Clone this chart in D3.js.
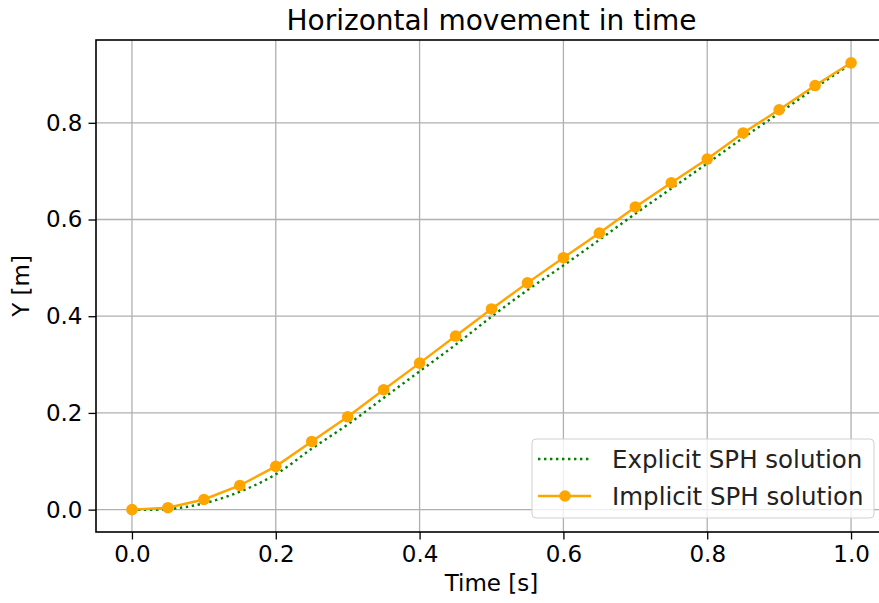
<!DOCTYPE html>
<html>
<head>
<meta charset="utf-8">
<script src="https://cdn.jsdelivr.net/npm/d3@7"></script>
<style>
  html, body { margin: 0; padding: 0; background: #fff; }
  svg { display: block; font-family: "DejaVu Sans", sans-serif; }
</style>
</head>
<body>
<div id="chart"></div>
<script>
// time steps, implicit run sampled every 0.05 s
const times = [0, 0.05, 0.1, 0.15, 0.2, 0.25, 0.3, 0.35, 0.4, 0.45, 0.5,
               0.55, 0.6, 0.65, 0.7, 0.75, 0.8, 0.85, 0.9, 0.95, 1.0];
const implicitY = [0, 0.004, 0.021, 0.05, 0.0895, 0.141, 0.192, 0.248, 0.303, 0.359, 0.415,
                   0.469, 0.521, 0.572, 0.626, 0.676, 0.725, 0.779, 0.827, 0.877, 0.924];
// explicit run at the same times
const explicitY = [0, 0.001, 0.013, 0.037, 0.073, 0.126, 0.176, 0.231, 0.286, 0.341, 0.399,
                   0.454, 0.505, 0.558, 0.612, 0.664, 0.716, 0.769, 0.820, 0.872, 0.922];

const xTicks = [0, 0.2, 0.4, 0.6, 0.8, 1.0];
const yTicks = [0, 0.2, 0.4, 0.6, 0.8];

const W = 879, H = 603;
const box = { left: 96, right: 887, top: 40, bottom: 532 };

const svg = d3.select("#chart").append("svg")
  .attr("width", W)
  .attr("height", H);

const x = d3.scaleLinear().domain([-0.05, 1.05]).range([box.left, box.right]);
const y = d3.scaleLinear().domain([-0.04625, 0.97125]).range([box.bottom, box.top]);

// grid
svg.append("g").selectAll("line.gx")
  .data(xTicks).join("line")
  .attr("x1", d => x(d)).attr("x2", d => x(d))
  .attr("y1", box.top).attr("y2", box.bottom)
  .attr("stroke", "#b0b0b0").attr("stroke-width", 1.3);

svg.append("g").selectAll("line.gy")
  .data(yTicks).join("line")
  .attr("y1", d => y(d)).attr("y2", d => y(d))
  .attr("x1", box.left).attr("x2", box.right)
  .attr("stroke", "#b0b0b0").attr("stroke-width", 1.3);

// axes
const xAxis = d3.axisBottom(x).tickValues(xTicks).tickFormat(d3.format(".1f")).tickSize(7.5).tickPadding(6);
const yAxis = d3.axisLeft(y).tickValues(yTicks).tickFormat(d3.format(".1f")).tickSize(7.5).tickPadding(6);

const gx = svg.append("g").attr("transform", `translate(0,${box.bottom})`).call(xAxis);
const gy = svg.append("g").attr("transform", `translate(${box.left},0)`).call(yAxis);
[gx, gy].forEach(g => {
  g.select(".domain").remove();
  g.selectAll("line").attr("stroke", "#000").attr("stroke-width", 1.3);
  g.selectAll("text").attr("font-size", 23).attr("fill", "#000").attr("font-family", "DejaVu Sans");
});

// frame
svg.append("rect")
  .attr("x", box.left).attr("y", box.top)
  .attr("width", box.right - box.left).attr("height", box.bottom - box.top)
  .attr("fill", "none").attr("stroke", "#000").attr("stroke-width", 1.6);

const explicitData = times.map((t, i) => ({ t, v: explicitY[i] }));
const implicitData = times.map((t, i) => ({ t, v: implicitY[i] }));

svg.append("path")
  .datum(explicitData)
  .attr("d", d3.line().x(d => x(d.t)).y(d => y(d.v)).curve(d3.curveCatmullRom))
  .attr("fill", "none")
  .attr("stroke", "green")
  .attr("stroke-width", 2.4)
  .attr("stroke-dasharray", "2.4,3.6");

svg.append("path")
  .datum(implicitData)
  .attr("d", d3.line().x(d => x(d.t)).y(d => y(d.v)))
  .attr("fill", "none")
  .attr("stroke", "orange")
  .attr("stroke-width", 2.4);

svg.append("g").selectAll("circle")
  .data(implicitData).join("circle")
  .attr("cx", d => x(d.t)).attr("cy", d => y(d.v))
  .attr("r", 5.8)
  .attr("fill", "orange");

// title + labels
svg.append("text")
  .attr("x", (box.left + box.right) / 2).attr("y", 30)
  .attr("text-anchor", "middle")
  .attr("font-size", 28)
  .text("Horizontal movement in time");

svg.append("text")
  .attr("x", (box.left + box.right) / 2).attr("y", 591)
  .attr("text-anchor", "middle")
  .attr("font-size", 23)
  .text("Time [s]");

svg.append("text")
  .attr("transform", `translate(29,${(box.top + box.bottom) / 2}) rotate(-90)`)
  .attr("text-anchor", "middle")
  .attr("font-size", 23)
  .text("Y [m]");

// legend
const leg = svg.append("g").attr("transform", "translate(532,439)");
leg.append("rect")
  .attr("width", 342).attr("height", 79)
  .attr("rx", 4)
  .attr("fill", "#fff").attr("fill-opacity", 0.8)
  .attr("stroke", "#d0d0d0");

leg.append("line")
  .attr("x1", 6).attr("x2", 59).attr("y1", 20).attr("y2", 20)
  .attr("stroke", "green").attr("stroke-width", 2.4).attr("stroke-dasharray", "2.4,3.6");
leg.append("line")
  .attr("x1", 6).attr("x2", 59).attr("y1", 57).attr("y2", 57)
  .attr("stroke", "orange").attr("stroke-width", 2.4);
leg.append("circle").attr("cx", 33).attr("cy", 57).attr("r", 5.8).attr("fill", "orange");

leg.selectAll("text.lab")
  .data(["Explicit SPH solution", "Implicit SPH solution"])
  .join("text")
  .attr("x", 80).attr("y", (d, i) => 29 + i * 37)
  .attr("font-size", 24.5)
  .attr("fill", "#222")
  .text(d => d);
</script>
</body>
</html>
